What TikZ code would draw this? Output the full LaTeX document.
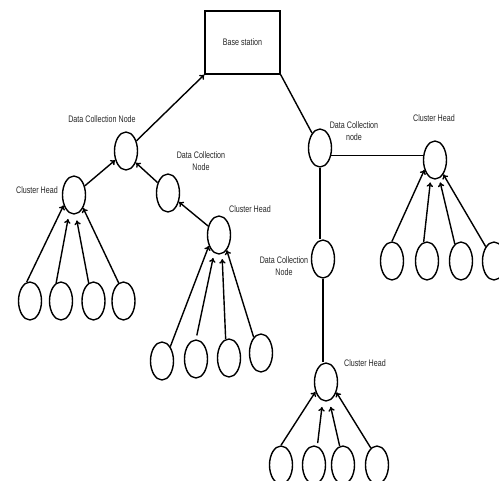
\documentclass[tikz,border=0pt]{standalone}
\usepackage{fontspec}
\setmainfont{Liberation Sans}[FakeStretch=0.75]
\usetikzlibrary{shapes.geometric,arrows.meta}
\begin{document}
\begin{tikzpicture}[x=1pt,y=-1pt,
  nd/.style={ellipse,draw,line width=1.4pt,minimum width=23pt,minimum height=38pt,inner sep=0pt},
  lbl/.style={font=\fontsize{9.5}{11.5}\selectfont,align=center,inner sep=0pt,text=black!85},
  ln/.style={line width=1.4pt},
  arr/.style={ln,-{To[length=4.5pt,width=6.5pt]}}]
\useasboundingbox (0,0) rectangle (499,481);
% base station
\node[draw,line width=1.4pt,minimum width=75pt,minimum height=63pt,inner sep=0pt,
      font=\fontsize{9.5}{11.5}\selectfont,text=black!85] (bs) at (242.5,42.5) {Base station};
% inner nodes
\node[nd] (dcn1) at (126,151) {};
\node[nd] (dcn2) at (168,193) {};
\node[nd] (ch1) at (74,195) {};
\node[nd] (ch2) at (219,235) {};
\node[nd] (dcn3) at (320,148) {};
\node[nd] (ch3) at (435,160) {};
\node[nd] (dcn4) at (323,259) {};
\node[nd] (ch4) at (326,382) {};
% leaves
\node[nd] (a1) at (30,301) {};
\node[nd] (a2) at (61,301) {};
\node[nd] (a3) at (93.5,301) {};
\node[nd] (a4) at (123.5,301) {};
\node[nd] (b1) at (162,361) {};
\node[nd] (b2) at (196,359) {};
\node[nd] (b3) at (229,358) {};
\node[nd] (b4) at (261,353) {};
\node[nd] (c1) at (392,261) {};
\node[nd] (c2) at (427,261) {};
\node[nd] (c3) at (461,261) {};
\node[nd] (c4) at (494,261) {};
\node[nd] (d1) at (281,465) {};
\node[nd] (d2) at (314,465) {};
\node[nd] (d3) at (343,465) {};
\node[nd] (d4) at (377,465) {};
% labels
\node[lbl] (l1) at (102,119) {Data Collection Node};
\node[lbl] (l2) at (201,161) {Data Collection\\Node};
\node[lbl] (l3) at (37,190) {Cluster Head};
\node[lbl] (l4) at (250,209) {Cluster Head};
\node[lbl] (l5) at (354,131) {Data Collection\\node};
\node[lbl] (l6) at (434,118) {Cluster Head};
\node[lbl] (l7) at (284,266) {Data Collection\\Node};
\node[lbl] (l8) at (365,363) {Cluster Head};
% backbone
\draw[arr] (dcn1) -- (bs.south west);
\draw[ln] (bs.south east) -- (dcn3);
\draw[arr] (ch1) -- (dcn1);
\draw[arr] (dcn2.135) -- (dcn1.-50);
\draw[arr] (ch2) -- (dcn2);
\draw[ln] (dcn3.-33) -- (ch3.west |- dcn3.-33);
\draw[ln] (dcn3.south) -- (dcn3.south |- dcn4.north);
\draw[ln] (dcn4.south) -- (dcn4.south |- ch4.north);
% cluster 1
\draw[arr] (a1.100) -- (ch1.-135);
\draw[arr,shorten >=6pt] (a2.105) -- (ch1.-105);
\draw[arr,shorten >=6pt] (a3.105) -- (ch1.-85);
\draw[arr] (a4.105) -- (ch1.-55);
% cluster 2
\draw[arr] (b1.60) -- (ch2.-133);
\draw[arr,shorten <=4pt,shorten >=5pt] (b2.north) -- (ch2.-105);
\draw[arr,shorten >=5pt] (b3.100) -- (ch2.-81);
\draw[arr] (b4.115) -- (ch2.-63);
% cluster 3
\draw[arr] (c1.north) -- (ch3.-137);
\draw[arr,shorten >=4pt] (c2.100) -- (ch3.-103);
\draw[arr,shorten >=4pt] (c3.110) -- (ch3.-77);
\draw[arr] (c4.120) -- (ch3.-60);
% cluster 4
\draw[arr] (d1.north) -- (ch4.-137);
\draw[arr,shorten <=3pt,shorten >=6pt] (d2.80) -- (ch4.-100);
\draw[arr,shorten >=6pt] (d3.100) -- (ch4.-80);
\draw[arr] (d4.110) -- (ch4.-45);
\end{tikzpicture}
\end{document}
